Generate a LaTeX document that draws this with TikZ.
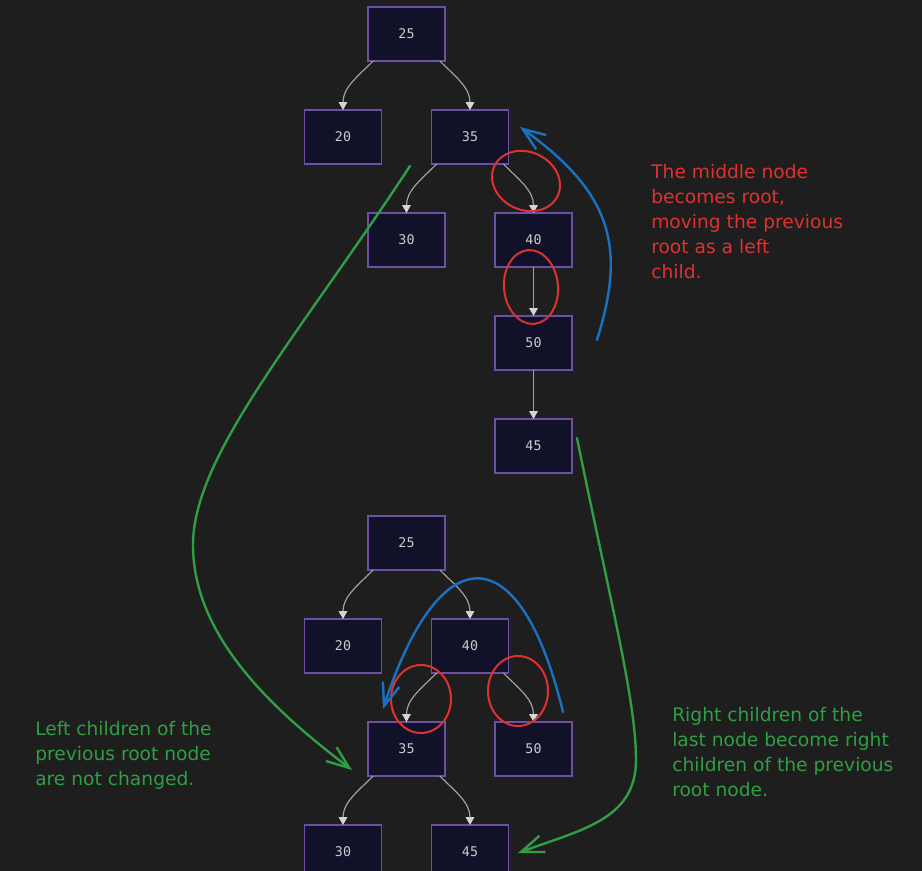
\documentclass[tikz,border=0pt]{standalone}
\usepackage{fontspec}
\setmonofont{DejaVu Sans Mono}
\newfontfamily\handfont{DejaVu Sans}
\usetikzlibrary{arrows.meta,positioning}

\definecolor{bgdark}{HTML}{1E1E1E}
\definecolor{boxfill}{HTML}{11112A}
\definecolor{boxline}{HTML}{6E4FA6}
\definecolor{boxtext}{HTML}{CCCCCC}
\definecolor{edgeline}{HTML}{A0A0A0}
\definecolor{edgehead}{HTML}{D4D4D4}
\definecolor{inkred}{HTML}{E03131}
\definecolor{inkblue}{HTML}{1971C2}
\definecolor{inkgreen}{HTML}{2F9E44}

\begin{document}
\begin{tikzpicture}[
  x=0.75pt, y=0.75pt,
  node distance=36.75pt,
  box/.style={rectangle, draw=boxline, fill=boxfill, line width=1.4pt,
              outer sep=0pt, minimum width=57.75pt, minimum height=40.5pt,
              font=\ttfamily\fontsize{10}{12}\selectfont, text=boxtext},
  arrow/.style={draw=edgeline, line width=0.9pt,
                -{Triangle[length=6pt,width=6.5pt,color=edgehead]}},
  ring/.style={draw=inkred, line width=1.5pt},
  hint/.style={line width=1.8pt, line cap=round,
               -{Straight Barb[length=17pt,width=13pt]}},
  note/.style={anchor=north west, inner sep=0pt, align=left,
               font=\handfont\fontsize{14}{18.75}\selectfont}
]
\useasboundingbox (0,0) rectangle (922,-871);
\fill[bgdark] (0,0) rectangle (922,-871);

% tree before the rotation
\node[box] (t25) at (406.5,-34) {25};
\node[box, below=of t25, xshift=-47.625pt] (t20) {20};
\node[box, below=of t25, xshift=47.625pt] (t35) {35};
\node[box, below=of t35, xshift=-47.625pt] (t30) {30};
\node[box, below=of t35, xshift=47.625pt] (t40) {40};
\node[box, below=of t40] (t50) {50};
\node[box, below=of t50] (t45) {45};

% tree after the rotation
\node[box] (b25) at (406.5,-543) {25};
\node[box, below=of b25, xshift=-47.625pt] (b20) {20};
\node[box, below=of b25, xshift=47.625pt] (b40) {40};
\node[box, below=of b40, xshift=-47.625pt] (b35) {35};
\node[box, below=of b40, xshift=47.625pt] (b50) {50};
\node[box, below=of b35, xshift=-47.625pt] (b30) {30};
\node[box, below=of b35, xshift=47.625pt] (b45) {45};

\foreach \a/\b/\s/\o in {t25/t20/-141/-135, t25/t35/-39/-45,
                         t35/t30/-141/-135, t35/t40/-39/-45,
                         b25/b20/-141/-135, b25/b40/-39/-45,
                         b40/b35/-141/-135, b40/b50/-39/-45,
                         b35/b30/-141/-135, b35/b45/-39/-45}
  \draw[arrow] (\a.\s) to[out=\o, in=90] (\b.north);
\draw[arrow] (t40) -- (t50);
\draw[arrow] (t50) -- (t45);

% red rings
\draw[ring, rotate around={-25:(526,-181)}] (526,-181) ellipse [x radius=35, y radius=29];
\draw[ring, rotate around={5:(531,-287)}] (531,-287) ellipse [x radius=27, y radius=37];
\draw[ring] (421,-699) ellipse [x radius=30, y radius=34];
\draw[ring] (518,-691) ellipse [x radius=30, y radius=35];

% blue arrows
\coordinate (bs1) at (597,-340);
\coordinate (be1) at (520,-127);
\coordinate (bs2) at (563,-712);
\coordinate (be2) at (383,-709);
\draw[hint, inkblue] (bs1) .. controls (625,-250) and (615,-195) .. (be1);
\draw[hint, inkblue] (bs2) .. controls (520,-535) and (440,-535) .. (be2);

% green arrows
\coordinate (gs1) at (410,-166);
\coordinate (gm1) at (193,-545);
\coordinate (ge1) at (352,-770);
\coordinate (gs2) at (577,-438);
\coordinate (gm2) at (636,-760);
\coordinate (ge2) at (518,-853);
\draw[hint, inkgreen] (gs1) .. controls (300,-334) and (193,-455) .. (gm1)
  .. controls (193,-640) and (280,-715) .. (ge1);
\draw[hint, inkgreen] (gs2) .. controls (610,-600) and (636,-700) .. (gm2)
  .. controls (636,-820) and (580,-830) .. (ge2);

% notes
\node[note, text=inkred] (nred) at (651,-164)
  {The middle node\\becomes root,\\moving the previous\\root as a left\\child.};
\node[note, text=inkgreen] (nleft) at (35,-721)
  {Left children of the\\previous root node\\are not changed.};
\node[note, text=inkgreen] (nright) at (672,-707)
  {Right children of the\\last node become right\\children of the previous\\root node.};
\end{tikzpicture}
\end{document}
